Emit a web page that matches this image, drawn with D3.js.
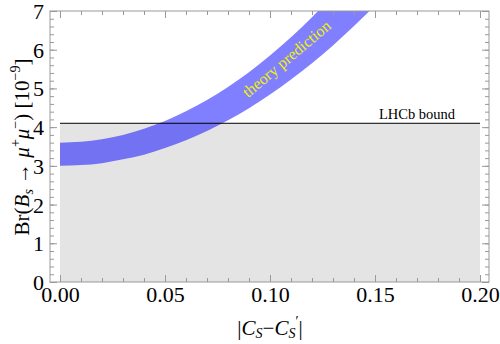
<!DOCTYPE html>
<html>
<head>
<meta charset="utf-8">
<script src="https://cdn.jsdelivr.net/npm/d3@7"></script>
<style>
  body { margin: 0; background: #fff; }
  svg text { font-family: "Liberation Serif", "Times New Roman", serif !important; }
  .frame path.domain { display: none; }
  .frame line { stroke: #999; }
</style>
</head>
<body>
<div id="chart"></div>
<script>
// chart data
const xTicks = [0, 0.05, 0.1, 0.15, 0.2];
const yTicks = [0, 1, 2, 3, 4, 5, 6, 7];
const cValues = [0, 0.01, 0.02, 0.03, 0.04, 0.05, 0.06, 0.07, 0.08, 0.09, 0.10, 0.11, 0.12, 0.13, 0.14, 0.15];
const bandLow = [3.00, 3.02, 3.07, 3.17, 3.29, 3.46, 3.66, 3.90, 4.18, 4.49, 4.84, 5.23, 5.65, 6.11, 6.61, 7.14];
const bandHigh = [3.60, 3.62, 3.69, 3.80, 3.96, 4.16, 4.41, 4.70, 5.04, 5.42, 5.85, 6.32, 6.84, 7.40, 8.01, 8.66];
const lhcbBound = 4.1;
const boundRange = [0, 0.2];

const width = 500, height = 344;
const frame = {left: 50, right: 489, top: 11, bottom: 282};
const serif = '"Liberation Serif", "Times New Roman", serif';

const xScale = d3.scaleLinear().domain([0, 0.2]).range([60, 480]);
const yScale = d3.scaleLinear().domain([0, 7]).range([frame.bottom, frame.top]);

const svg = d3.select('#chart').append('svg')
  .attr('width', width)
  .attr('height', height)
  .attr('font-family', serif);

svg.append('clipPath').attr('id', 'plot-clip')
  .append('rect')
  .attr('x', frame.left).attr('y', frame.top)
  .attr('width', frame.right - frame.left)
  .attr('height', frame.bottom - frame.top);

const plot = svg.append('g').attr('clip-path', 'url(#plot-clip)');

// excluded region below the bound
plot.append('rect')
  .attr('x', xScale(boundRange[0]))
  .attr('y', yScale(lhcbBound))
  .attr('width', xScale(boundRange[1]) - xScale(boundRange[0]))
  .attr('height', yScale(0) - yScale(lhcbBound))
  .attr('fill', '#e4e4e4');

const band = cValues.map((c, i) => ({c: c, lo: bandLow[i], hi: bandHigh[i]}));
plot.append('path')
  .datum(band)
  .attr('fill', '#0000ff')
  .attr('fill-opacity', 0.5)
  .attr('d', d3.area()
    .curve(d3.curveMonotoneX)
    .x(d => xScale(d.c))
    .y0(d => yScale(d.lo))
    .y1(d => yScale(d.hi)));

plot.append('line')
  .attr('x1', xScale(boundRange[0])).attr('x2', xScale(boundRange[1]))
  .attr('y1', yScale(lhcbBound)).attr('y2', yScale(lhcbBound))
  .attr('stroke', '#000').attr('stroke-width', 1);

svg.append('text')
  .attr('x', 417).attr('y', 119)
  .attr('text-anchor', 'middle')
  .attr('font-size', 14.5)
  .text('LHCb bound');

svg.append('text')
  .attr('transform', 'translate(290,63) rotate(-40)')
  .attr('text-anchor', 'middle')
  .attr('font-size', 16)
  .attr('fill', '#f2f200')
  .text('theory prediction');

// frame with inward ticks on every side
const minorX = d3.range(0, 0.2001, 0.01);
const minorY = d3.range(0, 7.001, 0.2);

function addAxis(axisFn, scale, values, size, pos) {
  return svg.append('g').attr('class', 'frame')
    .attr('transform', pos)
    .call(axisFn(scale).tickValues(values).tickSize(size).tickFormat(''));
}

addAxis(d3.axisBottom, xScale, minorX, -4, 'translate(0,' + frame.bottom + ')');
addAxis(d3.axisTop, xScale, minorX, -4, 'translate(0,' + frame.top + ')');
addAxis(d3.axisTop, xScale, xTicks, -7, 'translate(0,' + frame.top + ')');
addAxis(d3.axisLeft, yScale, minorY, -4, 'translate(' + frame.left + ',0)');
addAxis(d3.axisRight, yScale, minorY, -4, 'translate(' + frame.right + ',0)');
addAxis(d3.axisRight, yScale, yTicks, -7, 'translate(' + frame.right + ',0)');

const xAxisG = svg.append('g').attr('class', 'frame')
  .attr('transform', 'translate(0,' + frame.bottom + ')')
  .call(d3.axisBottom(xScale).tickValues(xTicks).tickSize(-7)
    .tickFormat(d3.format('.2f')));
xAxisG.attr('font-family', serif);
xAxisG.selectAll('text').attr('font-size', 22).attr('fill', '#000')
  .attr('dy', '0.75em').attr('y', 3);

const yAxisG = svg.append('g').attr('class', 'frame')
  .attr('transform', 'translate(' + frame.left + ',0)')
  .call(d3.axisLeft(yScale).tickValues(yTicks).tickSize(-7).tickFormat(d3.format('d')));
yAxisG.attr('font-family', serif);
yAxisG.selectAll('text').attr('font-size', 22).attr('fill', '#000')
  .attr('x', -6).attr('dy', '0.34em');

svg.append('rect')
  .attr('x', frame.left).attr('y', frame.top)
  .attr('width', frame.right - frame.left)
  .attr('height', frame.bottom - frame.top)
  .attr('fill', 'none')
  .attr('stroke', '#999');

// axis titles
const xTitle = svg.append('text')
  .attr('x', 270).attr('y', 335)
  .attr('text-anchor', 'middle')
  .attr('font-size', 21);
xTitle.append('tspan').text('|');
xTitle.append('tspan').attr('font-style', 'italic').text('C');
xTitle.append('tspan').attr('font-style', 'italic').attr('font-size', 14).attr('dy', 3).text('S');
xTitle.append('tspan').attr('dy', -3).text('\u2212');
xTitle.append('tspan').attr('font-style', 'italic').text('C');
xTitle.append('tspan').attr('font-style', 'italic').attr('font-size', 14).attr('dy', 3).text('S');
xTitle.append('tspan').attr('font-size', 14).attr('dy', -12).text('\u2032');
xTitle.append('tspan').attr('dy', 9).text('|');

const yTitle = svg.append('text')
  .attr('transform', 'translate(29,147) rotate(-90)')
  .attr('text-anchor', 'middle')
  .attr('font-size', 21);
yTitle.append('tspan').text('Br(');
yTitle.append('tspan').attr('font-style', 'italic').text('B');
yTitle.append('tspan').attr('font-style', 'italic').attr('font-size', 14).attr('dy', 4).text('s');
yTitle.append('tspan').attr('dy', -4).text(' \u2192 ');
yTitle.append('tspan').attr('font-style', 'italic').text('\u03bc');
yTitle.append('tspan').attr('font-size', 14).attr('dy', -9).text('+');
yTitle.append('tspan').attr('font-style', 'italic').attr('dy', 9).text('\u03bc');
yTitle.append('tspan').attr('font-size', 14).attr('dy', -9).text('\u2212');
yTitle.append('tspan').attr('dy', 9).text(') [10');
yTitle.append('tspan').attr('font-size', 14).attr('dy', -9).text('\u22129');
yTitle.append('tspan').attr('dy', 9).text(']');
</script>
</body>
</html>
